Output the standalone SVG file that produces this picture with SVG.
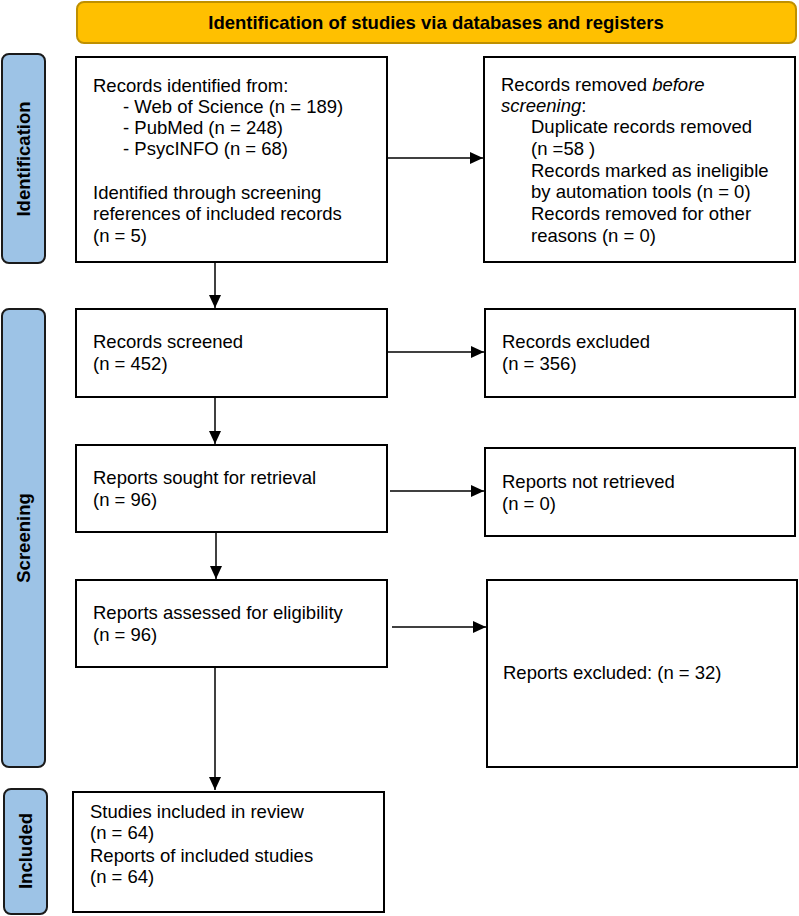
<svg xmlns="http://www.w3.org/2000/svg" width="799" height="916" viewBox="0 0 799 916">
<style>
text{font-family:"Liberation Sans",Arial,sans-serif;font-size:18.5px;fill:#000}
.b{font-weight:bold}
.box{fill:#fff;stroke:#000;stroke-width:2}
.side{fill:#9DC3E6;stroke:#1a1a1a;stroke-width:2}
.ban{fill:#FFC000;stroke:#BF9000;stroke-width:2}
.c{stroke:#000;stroke-width:1.5;fill:none;marker-end:url(#ah)}
</style>
<defs>
<marker id="ah" viewBox="0 0 13 12" refX="13" refY="6" markerWidth="13" markerHeight="12" markerUnits="userSpaceOnUse" orient="auto">
<path d="M0,0 L13,6 L0,12 z" fill="#000"/>
</marker>
</defs>
<rect width="799" height="916" fill="#fff"/>
<g id="banner">
<rect class="ban" x="77" y="2" width="719" height="41" rx="7"/>
<text class="b" x="436" y="29" text-anchor="middle">Identification of studies via databases and registers</text>
</g>
<g id="lbl-identification">
<rect class="side" x="2" y="54" width="43" height="209" rx="7"/>
<text class="b" transform="translate(30,159) rotate(-90)" text-anchor="middle">Identification</text>
</g>
<g id="lbl-screening">
<rect class="side" x="2" y="309" width="43" height="458" rx="7"/>
<text class="b" transform="translate(30,538) rotate(-90)" text-anchor="middle">Screening</text>
</g>
<g id="lbl-included">
<rect class="side" x="4" y="789" width="43" height="125" rx="7"/>
<text class="b" transform="translate(32,851) rotate(-90)" text-anchor="middle">Included</text>
</g>
<g id="identified">
<rect class="box" x="76" y="57" width="311" height="205"/>
<text x="93" y="92">Records identified from:</text>
<text x="123" y="113">- Web of Science (n = 189)</text>
<text x="123" y="134">- PubMed (n = 248)</text>
<text x="123" y="155">- PsycINFO (n = 68)</text>
<text x="93" y="199">Identified through screening</text>
<text x="93" y="220">references of included records</text>
<text x="93" y="242">(n = 5)</text>
</g>
<g id="removed">
<rect class="box" x="484" y="57" width="311" height="205"/>
<text x="501" y="91">Records removed <tspan font-style="italic">before</tspan></text>
<text x="501" y="112"><tspan font-style="italic">screening</tspan>:</text>
<text x="531" y="133">Duplicate records removed</text>
<text x="531" y="155">(n =58 )</text>
<text x="531" y="177">Records marked as ineligible</text>
<text x="531" y="198">by automation tools (n = 0)</text>
<text x="531" y="220">Records removed for other</text>
<text x="531" y="242">reasons (n = 0)</text>
</g>
<g id="screened">
<rect class="box" x="76" y="309" width="311" height="88"/>
<text x="93" y="348">Records screened</text>
<text x="93" y="370">(n = 452)</text>
</g>
<g id="excluded">
<rect class="box" x="485" y="309" width="310" height="88"/>
<text x="502" y="348">Records excluded</text>
<text x="502" y="370">(n = 356)</text>
</g>
<g id="sought">
<rect class="box" x="76" y="445" width="311" height="87"/>
<text x="93" y="484">Reports sought for retrieval</text>
<text x="93" y="506">(n = 96)</text>
</g>
<g id="notretrieved">
<rect class="box" x="485" y="448" width="310" height="88"/>
<text x="502" y="488">Reports not retrieved</text>
<text x="502" y="510">(n = 0)</text>
</g>
<g id="assessed">
<rect class="box" x="76" y="580" width="311" height="87"/>
<text x="93" y="619">Reports assessed for eligibility</text>
<text x="93" y="641">(n = 96)</text>
</g>
<g id="reportsexcluded">
<rect class="box" x="487" y="580" width="310" height="187"/>
<text x="503" y="679">Reports excluded: (n = 32)</text>
</g>
<g id="included">
<rect class="box" x="73" y="792" width="311" height="120"/>
<text x="90" y="818">Studies included in review</text>
<text x="90" y="839">(n = 64)</text>
<text x="90" y="862">Reports of included studies</text>
<text x="90" y="883">(n = 64)</text>
</g>
<g id="connectors">
<line class="c" x1="387" y1="158" x2="483" y2="158"/>
<line class="c" x1="215" y1="262" x2="215" y2="308"/>
<line class="c" x1="387" y1="352" x2="484" y2="352"/>
<line class="c" x1="215" y1="397" x2="215" y2="444"/>
<line class="c" x1="390" y1="491" x2="484" y2="491"/>
<line class="c" x1="216" y1="532" x2="216" y2="579"/>
<line class="c" x1="392" y1="627" x2="486" y2="627"/>
<line class="c" x1="215" y1="667" x2="215" y2="790"/>
</g>
</svg>
